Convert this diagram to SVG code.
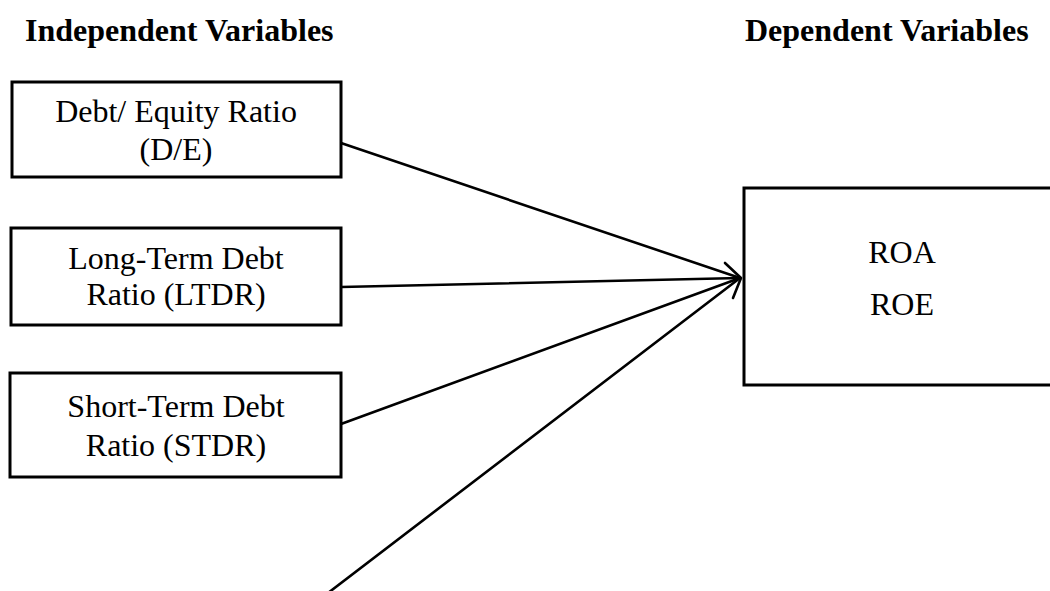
<svg xmlns="http://www.w3.org/2000/svg" width="1050" height="591" viewBox="0 0 1050 591">
<style>
.box{fill:#fff;stroke:#000;stroke-width:3}
.t{font-family:"Liberation Serif","Times New Roman",serif;font-size:32px;fill:#000;text-anchor:middle}
.h{font-family:"Liberation Serif","Times New Roman",serif;font-size:32px;font-weight:bold;fill:#000}
.c{fill:none;stroke:#000;stroke-width:2.6;stroke-linecap:round;stroke-linejoin:round}
</style>
<rect width="1050" height="591" fill="#fff"/>
<g id="headings">
<text class="h" x="25" y="41">Independent Variables</text>
<text class="h" x="745" y="41">Dependent Variables</text>
</g>
<g id="connectors">
<line class="c" x1="341" y1="143" x2="740" y2="278"/>
<line class="c" x1="341" y1="287" x2="740" y2="278"/>
<line class="c" x1="341" y1="424" x2="740" y2="278"/>
<line class="c" x1="328" y1="593" x2="740" y2="278"/>
<polyline class="c" points="725,263 741,278 733,298"/>
</g>
<g id="node-de">
<rect class="box" x="12" y="82" width="329" height="95"/>
<text class="t" x="176" y="122">Debt/ Equity Ratio</text>
<text class="t" x="176" y="160">(D/E)</text>
</g>
<g id="node-ltdr">
<rect class="box" x="11" y="228" width="330" height="97"/>
<text class="t" x="176" y="269">Long-Term Debt</text>
<text class="t" x="176" y="305">Ratio (LTDR)</text>
</g>
<g id="node-stdr">
<rect class="box" x="10" y="373" width="331" height="104"/>
<text class="t" x="176" y="417">Short-Term Debt</text>
<text class="t" x="176" y="456">Ratio (STDR)</text>
</g>
<g id="node-dep">
<rect class="box" x="744" y="188" width="320" height="197"/>
<text class="t" x="902" y="263">ROA</text>
<text class="t" x="902" y="315">ROE</text>
</g>
</svg>
